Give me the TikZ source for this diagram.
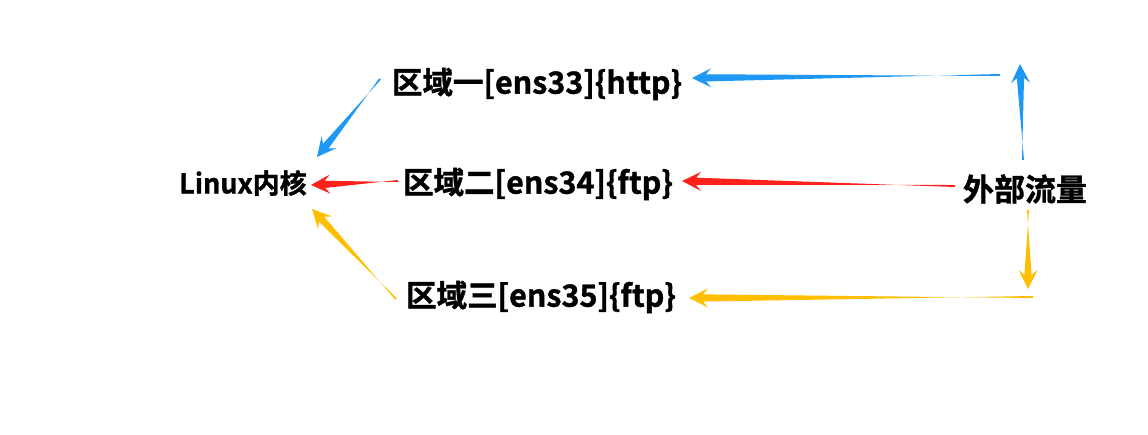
\documentclass[tikz,border=0pt]{standalone}
\usepackage{fontspec}
\usepackage{tikz}
\usetikzlibrary{calc}
\newfontfamily\cjk{Noto Sans CJK SC}[BoldFont={Noto Sans CJK SC Bold},BoldFeatures={FakeBold=1.2}]
\definecolor{flowblue}{RGB}{30,152,242}
\definecolor{flowred}{RGB}{255,34,26}
\definecolor{flowyellow}{RGB}{255,190,0}
% tapered arrow: colour, tail, tip
\newcommand\taperarrow[3]{%
  \coordinate (hb) at ($(#3)!19pt!(#2)$);
  \coordinate (hn) at ($(#3)!14pt!(#2)$);
  \fill[#1] ($(#2)!1pt!90:(#3)$) -- ($(hn)!3.6pt!-90:(#3)$) -- ($(hb)!9.5pt!-90:(#3)$)
    -- (#3) -- ($(hb)!9.5pt!90:(#3)$) -- ($(hn)!3.6pt!90:(#3)$) -- ($(#2)!1pt!-90:(#3)$) -- cycle;
}

\begin{document}
\begin{tikzpicture}[x=1pt,y=-1pt]
\useasboundingbox (0,0) rectangle (1148,434);
\tikzset{label/.style={font=\cjk\bfseries\fontsize{30.5}{34}\selectfont, inner sep=0pt}}
\node[label, font=\cjk\bfseries\fontsize{27}{31}\selectfont] (kernel) at (243,183) {Linux内核};
\node[label] (zoneA) at (537,84) {区域一[ens33]\{http\}};
\node[label] (zoneB) at (538,184) {区域二[ens34]\{ftp\}};
\node[label] (zoneC) at (541,297) {区域三[ens35]\{ftp\}};
\node[label, font=\cjk\bfseries\fontsize{31}{35}\selectfont] (outside) at (1025,189) {外部流量};
\coordinate (aTail) at (1000,75);
\coordinate (aTip) at (692,78);
\coordinate (upTail) at (1023,160);
\coordinate (upTip) at (1020,64);
\coordinate (bTail) at (955,186);
\coordinate (bTip) at (682,181);
\coordinate (downTail) at (1028,210);
\coordinate (downTip) at (1028,289);
\coordinate (cTail) at (1033,297);
\coordinate (cTip) at (689,298);
\coordinate (kaTail) at (380,79);
\coordinate (kaTip) at (317,157);
\coordinate (kbTail) at (398,181);
\coordinate (kbTip) at (311,185);
\coordinate (kcTail) at (396,299);
\coordinate (kcTip) at (312,209);
\taperarrow{flowblue}{upTail}{upTip}
\taperarrow{flowblue}{aTail}{aTip}
\taperarrow{flowblue}{kaTail}{kaTip}
\taperarrow{flowred}{bTail}{bTip}
\taperarrow{flowred}{kbTail}{kbTip}
\taperarrow{flowyellow}{downTail}{downTip}
\taperarrow{flowyellow}{cTail}{cTip}
\taperarrow{flowyellow}{kcTail}{kcTip}
\end{tikzpicture}
\end{document}
